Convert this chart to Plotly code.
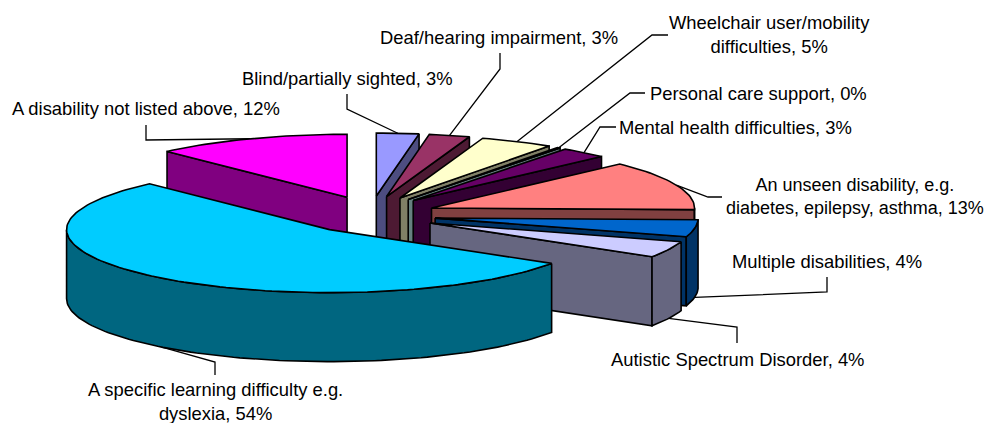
import math
import plotly.graph_objects as go

categories = ["Blind/partially sighted", "Deaf/hearing impairment", "Wheelchair user/mobility difficulties",
              "Personal care support", "Mental health difficulties",
              "An unseen disability, e.g. diabetes, epilepsy, asthma", "Multiple disabilities",
              "Autistic Spectrum Disorder", "A specific learning difficulty e.g. dyslexia",
              "A disability not listed above"]
values = [2.6, 2.5, 4.5, 0.2, 2.9, 12.7, 4.4, 4.2, 54.0, 12.0]
labels = ["Blind/partially sighted, 3%", "Deaf/hearing impairment, 3%",
          "Wheelchair user/mobility<br>difficulties, 5%", "Personal care support, 0%",
          "Mental health difficulties, 3%", "An unseen disability, e.g.<br>diabetes, epilepsy, asthma, 13%",
          "Multiple disabilities, 4%", "Autistic Spectrum Disorder, 4%",
          "A specific learning difficulty e.g.<br>dyslexia, 54%", "A disability not listed above, 12%"]
top_colors = ["#9999FF", "#993366", "#FFFFCC", "#CCFFFF", "#660066",
              "#FF8080", "#0066CC", "#CCCCFF", "#00CCFF", "#FF00FF"]
side_colors = ["#4D4D80", "#4D1A33", "#808066", "#668080", "#330033",
               "#804040", "#003366", "#666680", "#006680", "#800080"]

CX, CY, RX, RY, DEPTH, EX, EY = 371, 215, 263, 63, 69, 65, 19
INK = "#000000"
FONT = dict(family="Liberation Sans, Arial, sans-serif", size=18.4, color="#000000")
FONT_TIGHT = dict(FONT, size=18)

# The page has an 8px body margin, so the axes start at 8: axis units equal page pixels.
PAGE_W, PAGE_H, BODY = 996, 423, 8

label_pos = [(347, 78), (499, 37), (769, 34.5), (758, 93), (735, 127), (855, 196), (827, 261), (737, 359), (215, 401), (146, 108)]
elbows = [[(347, 94), (347, 109)], [(500, 53), (500, 69)], [(668, 35), (652, 35)], [(645, 93), (630, 93)],
          [(616, 127), (600, 127)], [(722, 197), (708, 197)], [(827, 277), (827, 292)], [(737, 343), (737, 327)],
          [(215, 375), (215, 362)], [(146, 125), (146, 140)]]

fig = go.Figure()
total = sum(values)
spans = []
acc = 0.0
for v in values:
    spans.append((acc / total * 360, (acc + v) / total * 360))
    acc += v


def pt(apex, deg, dz=0):
    r = math.radians(deg)
    return apex[0] + RX * math.sin(r), apex[1] - RY * math.cos(r) + dz


def poly(points, color):
    fig.add_trace(go.Scatter(x=[p[0] for p in points] + [points[0][0]], y=[p[1] for p in points] + [points[0][1]],
                             mode="lines", fill="toself", fillcolor=color, line=dict(color=INK, width=1.6),
                             hoverinfo="skip", showlegend=False))


def arc(apex, a, b, dz=0):
    n = max(2, int(abs(b - a) / 1.5) + 2)
    return [pt(apex, a + (b - a) * i / (n - 1), dz) for i in range(n)]


apexes, mids = [], []
for (a, b) in spans:
    m = (a + b) / 2
    r = math.radians(m)
    apexes.append((CX + EX * math.sin(r), CY - EY * math.cos(r)))
    mids.append(m)

# leader lines go under the pie
for i, e in enumerate(elbows):
    tip = pt(apexes[i], mids[i], DEPTH if 90 < mids[i] < 270 else 0)
    pts = e + [tip]
    fig.add_trace(go.Scatter(x=[p[0] for p in pts], y=[p[1] for p in pts], mode="lines",
                             line=dict(color=INK, width=1.3), hoverinfo="skip", showlegend=False))

order = [9, 0, 1, 2, 3, 4, 5, 6, 7, 8]
for i in order:
    a, b = spans[i]
    ap = apexes[i]
    down = (ap[0], ap[1] + DEPTH)
    # radial walls
    if math.cos(math.radians(a - 90)) < -1e-6:
        poly([ap, pt(ap, a), pt(ap, a, DEPTH), down], side_colors[i])
    if math.cos(math.radians(b + 90)) < -1e-6:
        poly([ap, pt(ap, b), pt(ap, b, DEPTH), down], side_colors[i])
    # outer wall: the front half of the rim
    lo, hi = max(a, 90), min(b, 270)
    if hi > lo:
        poly(arc(ap, lo, hi) + arc(ap, hi, lo, DEPTH), side_colors[i])
    poly([ap] + arc(ap, a, b), top_colors[i])

annotations = [dict(x=p[0], y=p[1], xref="x", yref="y", text=t, showarrow=False, align="center",
                    font=FONT_TIGHT if "asthma" in t else FONT)
               for t, p in zip(labels, label_pos)]

fig.update_layout(width=PAGE_W, height=PAGE_H, margin=dict(l=0, r=0, t=0, b=0),
                  paper_bgcolor="white", plot_bgcolor="white",
                  xaxis=dict(range=[BODY, PAGE_W + BODY], visible=False, fixedrange=True),
                  yaxis=dict(range=[PAGE_H + BODY, BODY], visible=False, fixedrange=True),
                  annotations=annotations, showlegend=False)
fig.write_html("out.html", config=dict(displayModeBar=False))
